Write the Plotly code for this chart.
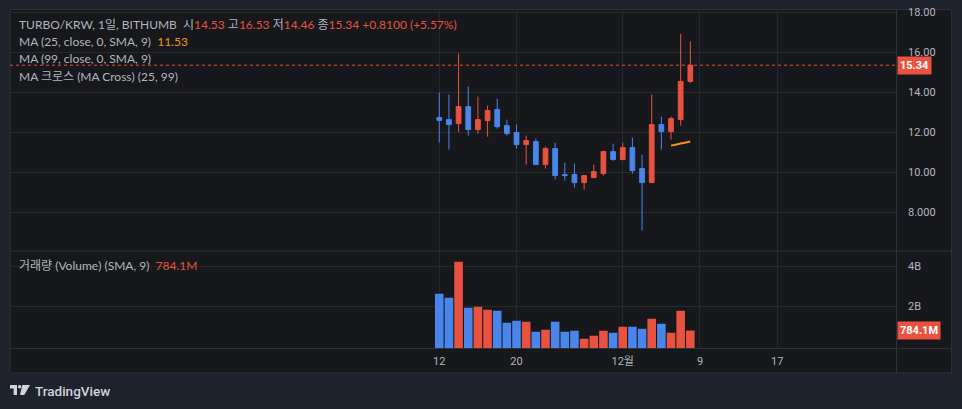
import plotly.graph_objects as go

# ---------------- data ----------------
dates = ["2024-11-12", "2024-11-13", "2024-11-14", "2024-11-15", "2024-11-16", "2024-11-17",
         "2024-11-18", "2024-11-19", "2024-11-20", "2024-11-21", "2024-11-22", "2024-11-23",
         "2024-11-24", "2024-11-25", "2024-11-26", "2024-11-27", "2024-11-28", "2024-11-29",
         "2024-11-30", "2024-12-01", "2024-12-02", "2024-12-03", "2024-12-04", "2024-12-05",
         "2024-12-06", "2024-12-07", "2024-12-08"]
opens = [12.72, 12.62, 12.42, 13.27, 12.12, 12.57, 13.12, 12.32, 11.97, 11.37, 11.52, 10.37,
         11.17, 9.87, 9.87, 9.47, 9.72, 9.92, 11.02, 10.62, 11.22, 10.17, 9.47, 12.37, 12.02,
         12.62, 14.53]
highs = [13.97, 13.87, 15.92, 14.27, 13.77, 13.32, 13.67, 12.62, 12.37, 11.82, 11.67, 11.27,
         11.47, 10.47, 10.42, 9.82, 10.37, 11.07, 11.42, 11.47, 11.72, 10.87, 13.87, 12.77,
         12.77, 16.92, 16.53]
lows = [11.48, 11.12, 11.98, 11.82, 11.92, 11.77, 12.17, 11.82, 11.17, 10.37, 10.35, 10.17,
        9.62, 9.57, 9.22, 9.12, 9.72, 9.82, 10.57, 10.62, 9.92, 7.07, 9.47, 11.12, 11.62,
        12.32, 14.46]
closes = [12.58, 12.37, 13.27, 12.12, 12.62, 13.07, 12.27, 11.92, 11.37, 11.57, 10.37, 11.17,
          9.82, 9.82, 9.47, 9.82, 10.02, 11.02, 10.62, 11.22, 10.07, 9.47, 12.37, 12.02, 12.67,
          14.53, 15.34]
volumes = [2.63e9, 2.43e9, 4.23e9, 1.93e9, 1.98e9, 1.83e9, 1.78e9, 1.18e9, 1.28e9, 1.23e9,
           0.73e9, 0.83e9, 1.23e9, 0.73e9, 0.78e9, 0.38e9, 0.53e9, 0.78e9, 0.68e9, 0.98e9,
           0.98e9, 0.88e9, 1.38e9, 1.13e9, 0.68e9, 1.78e9, 0.7841e9]
ma25_dates = ["2024-12-06", "2024-12-07", "2024-12-08"]
ma25_values = [11.32, 11.43, 11.53]

price_ticks = [8, 10, 12, 14, 16, 18]
price_ticktext = ["8.000", "10.00", "12.00", "14.00", "16.00", "18.00"]
vol_ticks = [2e9, 4e9]
vol_ticktext = ["2B", "4B"]
time_ticks = ["2024-11-12", "2024-11-20", "2024-12-01", "2024-12-09", "2024-12-17"]
time_ticktext = ["12", "20", "12월", "9", "17"]

# ---------------- style ----------------
W, H = 962, 409
UP = "#E8523F"
DOWN = "#4A85EC"
ORANGE = "#F7921E"
TXT = "#B2B5BE"
GRID = "#26282D"
SEP = "#2E3137"
OUTER = "#1E222D"
PANEL = "#17181B"
FONT = "Roboto, Noto Sans CJK KR, sans-serif"
LFONT = "Lato, Noto Sans CJK KR, sans-serif"


def px(x):
    return x / W


def py(y):
    return 1 - y / H


vol_colors = [UP if c >= o else DOWN for o, c in zip(opens, closes)]

fig = go.Figure()

fig.add_trace(go.Candlestick(
    x=dates, open=opens, high=highs, low=lows, close=closes,
    increasing=dict(line=dict(color=UP, width=1), fillcolor=UP),
    decreasing=dict(line=dict(color=DOWN, width=1), fillcolor=DOWN),
    whiskerwidth=0, xaxis="x", yaxis="y", hoverinfo="skip", showlegend=False,
))
fig.add_trace(go.Scatter(
    x=ma25_dates, y=ma25_values, mode="lines",
    line=dict(color=ORANGE, width=2, shape="spline"),
    xaxis="x", yaxis="y", hoverinfo="skip", showlegend=False,
))

vol_min = -0.11e9
fig.add_trace(go.Bar(
    x=dates, y=[v - vol_min for v in volumes], base=vol_min,
    marker=dict(color=vol_colors, line=dict(width=0)),
    width=0.89 * 86400000, xaxis="x2", yaxis="y2", hoverinfo="skip", showlegend=False,
))

xrange = ["2024-09-28 13:00", "2024-12-29 07:12"]
xdom = [px(10), px(896)]

fig.update_layout(
    width=W, height=H, margin=dict(l=0, r=0, t=0, b=0, autoexpand=False),
    paper_bgcolor=OUTER, plot_bgcolor="rgba(0,0,0,0)",
    font=dict(family=FONT, color=TXT, size=11),
    showlegend=False,
    xaxis=dict(domain=xdom, anchor="y", type="date", range=xrange, automargin=False,
               tickvals=time_ticks, ticktext=time_ticktext, showticklabels=False,
               showgrid=True, gridcolor=GRID, gridwidth=1, zeroline=False,
               rangeslider=dict(visible=False), fixedrange=True),
    xaxis2=dict(domain=xdom, anchor="y2", type="date", range=xrange, automargin=False,
                tickvals=time_ticks, ticktext=time_ticktext, showticklabels=True,
                ticks="", ticklabelstandoff=4,
                tickfont=dict(size=11, color=TXT, family=FONT),
                showgrid=True, gridcolor=GRID, gridwidth=1, zeroline=False),
    yaxis=dict(domain=[py(251), py(10)], anchor="x", side="right", automargin=False,
               range=[18 - (251 - 12) / 20, 18 - (10 - 12) / 20],
               tickvals=price_ticks, ticktext=price_ticktext, ticks="",
               ticklabelstandoff=11, tickfont=dict(size=11, color=TXT, family=FONT),
               showgrid=True, gridcolor=GRID, gridwidth=1, zeroline=False),
    yaxis2=dict(domain=[py(348.5), py(251)], anchor="x2", side="right", automargin=False,
                range=[vol_min, (346.3 - 251) / 20 * 1e9],
                tickvals=vol_ticks, ticktext=vol_ticktext, ticks="",
                ticklabelstandoff=11, tickfont=dict(size=11, color=TXT, family=FONT),
                showgrid=True, gridcolor=GRID, gridwidth=1, zeroline=False),
)

shapes = [
    # panel background
    dict(type="rect", xref="paper", yref="paper", x0=px(10), x1=px(951.5), y0=py(373), y1=py(9.5),
         fillcolor=PANEL, line=dict(color="#2A2E39", width=1), layer="below"),
    # separators
    dict(type="line", xref="paper", yref="paper", x0=px(10), x1=px(951), y0=py(251), y1=py(251),
         line=dict(color=SEP, width=1)),
    dict(type="line", xref="paper", yref="paper", x0=px(10), x1=px(951), y0=py(348.5), y1=py(348.5),
         line=dict(color=SEP, width=1)),
    dict(type="line", xref="paper", yref="paper", x0=px(896.5), x1=px(896.5), y0=py(373), y1=py(10),
         line=dict(color=SEP, width=1)),
    # last price dotted line
    dict(type="line", xref="paper", yref="y", x0=px(10), x1=px(896), y0=closes[-1], y1=closes[-1],
         line=dict(color=UP, width=1, dash="dot")),
    # TradingView logo
    dict(type="path", xref="paper", yref="paper",
         path=f"M {px(10)} {py(385)} L {px(17)} {py(385)} L {px(17)} {py(395)} L {px(13.6)} {py(395)} "
              f"L {px(13.6)} {py(388.4)} L {px(10)} {py(388.4)} Z",
         fillcolor="#D1D4DC", line=dict(width=0)),
    dict(type="circle", xref="paper", yref="paper", x0=px(17.9), x1=px(21.3), y0=py(388.4), y1=py(385),
         fillcolor="#D1D4DC", line=dict(width=0)),
    dict(type="path", xref="paper", yref="paper",
         path=f"M {px(22.3)} {py(385)} L {px(30)} {py(385)} L {px(24.3)} {py(395)} L {px(20)} {py(395)} Z",
         fillcolor="#D1D4DC", line=dict(width=0)),
]
fig.update_layout(shapes=shapes)


def span(t, c):
    return f'<span style="color:{c}">{t}</span>'


G1 = " "
G2 = "&nbsp; "
line1 = ("TURBO/KRW, 1일, BITHUMB" + G2 + "시" + span(f"{opens[-1]:.2f}", UP)
         + G1 + "고" + span(f"{highs[-1]:.2f}", UP)
         + G1 + "저" + span(f"{lows[-1]:.2f}", UP)
         + G1 + "종" + span(f"{closes[-1]:.2f}", UP)
         + G1 + span("+0.8100 (+5.57%)", UP))
line2 = "MA (25, close, 0, SMA, 9)" + G2 + span(f"{ma25_values[-1]:.2f}", ORANGE)
line3 = "MA (99, close, 0, SMA, 9)"
line4 = "MA 크로스 (MA Cross) (25, 99)"
vline = "거래량 (Volume) (SMA, 9)" + G2 + span(f"{volumes[-1] / 1e6:.1f}M", UP)

ann = []
for txt, yy in [(line1, 24.3), (line2, 41.7), (line3, 59), (line4, 76.3), (vline, 265.7)]:
    ann.append(dict(text=txt, xref="paper", yref="paper", x=px(16.5), y=py(yy),
                    xanchor="left", yanchor="middle", showarrow=False,
                    font=dict(size=12, color=TXT, family=LFONT)))

ann.append(dict(text=f"<b>{closes[-1]:.2f}</b>", xref="paper", yref="y", x=px(896.5), y=closes[-1],
                xanchor="left", yanchor="middle", showarrow=False, bgcolor=UP, borderpad=2,
                font=dict(size=11, color="#FFFFFF", family=FONT)))
ann.append(dict(text=f"<b>{volumes[-1] / 1e6:.1f}M</b>", xref="paper", yref="y2", x=px(896.5),
                y=volumes[-1], xanchor="left", yanchor="middle", showarrow=False, bgcolor=UP,
                borderpad=2, font=dict(size=11, color="#FFFFFF", family=FONT)))
ann.append(dict(text="TradingView", xref="paper", yref="paper", x=px(33), y=py(390.5),
                xanchor="left", yanchor="middle", showarrow=False,
                font=dict(size=13.5, color="#D1D4DC", family=FONT, weight=500)))
fig.update_layout(annotations=ann)

fig.write_html("out.html")
